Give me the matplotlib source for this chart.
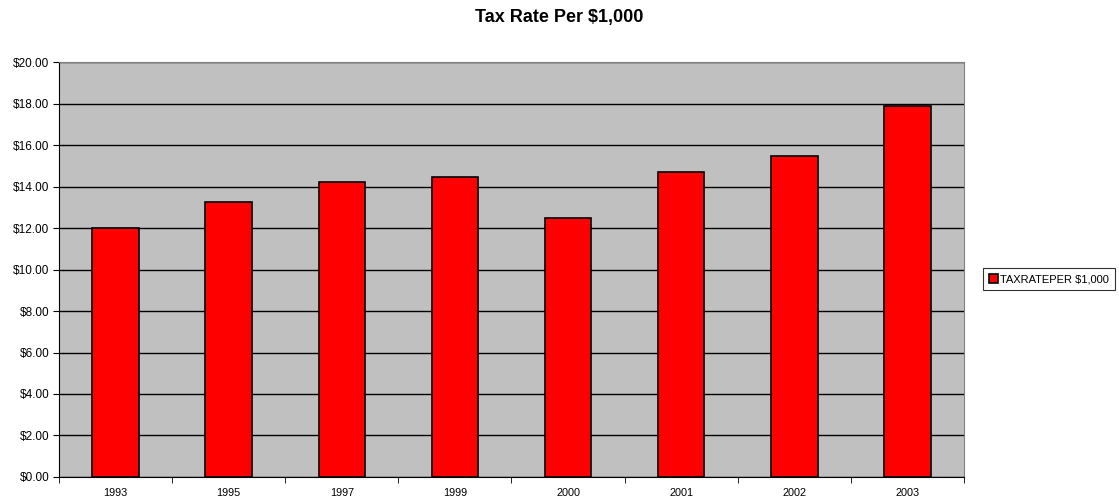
import numpy as np
import matplotlib
matplotlib.use('Agg')
import matplotlib.pyplot as plt

plt.rcParams['font.family'] = ['Liberation Sans', 'DejaVu Sans']

years = ['1993', '1995', '1997', '1999', '2000', '2001', '2002', '2003']
rates = [12.00, 13.25, 14.22, 14.46, 12.48, 14.70, 15.47, 17.88]
yticks = np.arange(0, 21, 2)

fig = plt.figure(figsize=(11.19, 5.03), dpi=100)
ax = fig.add_axes([0.0527, 0.0517, 0.8088, 0.825])
ax.set_facecolor('#C0C0C0')

x = np.arange(len(years))
ax.bar(x, rates, width=0.41, color='#FF0000', edgecolor='black', linewidth=1.2,
       label='TAXRATEPER $1,000', zorder=3)

ax.set_xlim(-0.5, len(years) - 0.5)
ax.set_ylim(0, 20)
ax.set_yticks(yticks)
ax.set_yticklabels(['${:.2f}'.format(v) for v in yticks], fontsize=8.5)
ax.yaxis.grid(True, color='black', linewidth=1)
ax.set_axisbelow(True)

# category labels centred, tick marks on boundaries
ax.set_xticks(x)
ax.set_xticklabels(years, fontsize=7.8)
ax.tick_params(axis='x', length=0, pad=8)
ax.set_xticks(np.arange(-0.5, len(years)), minor=True)
ax.tick_params(axis='x', which='minor', length=4, direction='out', color='black')
ax.tick_params(axis='y', length=4, direction='out', pad=3)

for s in ['top', 'right']:
    ax.spines[s].set_color('#808080')
ax.spines['left'].set_color('black')
ax.spines['bottom'].set_color('black')

fig.suptitle('Tax Rate Per $1,000', fontsize=13, fontweight='bold', y=0.983)

leg = fig.legend(loc='center left', bbox_to_anchor=(0.8785, 0.445), fontsize=8,
                 frameon=True, fancybox=False, edgecolor='black', handlelength=0.8,
                 handleheight=0.8, handletextpad=0.2, borderpad=0.55, borderaxespad=0)
leg.get_frame().set_linewidth(0.8)

fig.savefig('out.png', dpi=100)
